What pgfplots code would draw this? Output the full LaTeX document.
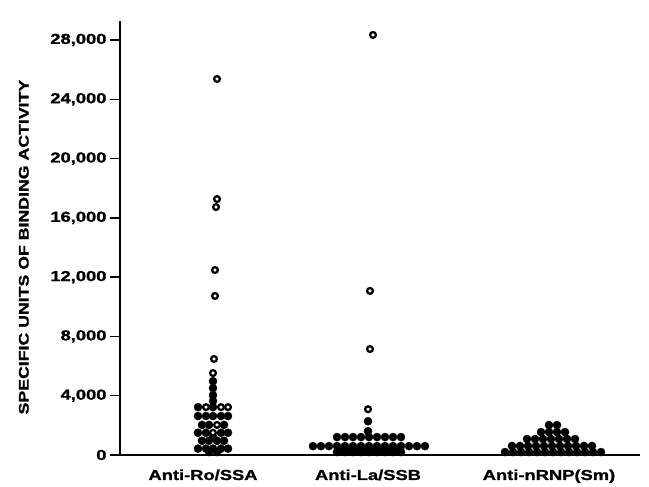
\documentclass[border=0pt]{standalone}
\usepackage{fontspec}
\setmainfont[FakeStretch=1.27, BoldFeatures={FakeBold=1.3}]{Liberation Sans}
\usepackage{pgfplots}
\pgfplotsset{compat=1.18}
\usepackage{pgfplotstable}

% x in picture columns, y in units of binding activity
\pgfplotstableread{
x y
213 4980
213 4510
213 4040
213 3640
198 3230
213 3230
198 2630
206 2630
213 2630
221 2630
228 2630
202 2030
209 2030
224 2030
198 1500
206 1500
221 1500
228 1500
213 1200
202 960
209 960
217 960
224 960
198 430
206 430
213 430
221 430
228 430
209 200
217 200
}\roFilled

\pgfplotstableread{
x y
217 25370
217 17270
216 16730
215 12480
215 10730
214 6480
213 5530
206 3230
221 3230
228 3230
217 2030
213 1500
}\roOpen

\pgfplotstableread{
x y
368 2280
368 1610
337 1210
345 1210
353 1210
361 1210
369 1210
377 1210
385 1210
393 1210
401 1210
313 600
321 600
329 600
337 600
345 600
353 600
361 600
369 600
377 600
385 600
393 600
401 600
409 600
417 600
425 600
341 350
349 350
357 350
365 350
373 350
381 350
389 350
397 350
337 200
345 200
353 200
361 200
369 200
377 200
385 200
393 200
401 200
}\laFilled

\pgfplotstableread{
x y
373 28340
370 11070
370 7150
368 3090
}\laOpen

\pgfplotstableread{
x y
549 2020
557 2020
541 1550
549 1550
557 1550
565 1550
527 1080
535 1080
543 1080
551 1080
559 1080
567 1080
575 1080
512 610
520 610
528 610
536 610
544 610
552 610
560 610
568 610
576 610
584 610
592 610
505 200
513 200
521 200
529 200
537 200
545 200
553 200
561 200
569 200
577 200
585 200
593 200
601 200
}\smFilled

\begin{document}
\begin{tikzpicture}
\begin{axis}[
  name=ax,
  scale only axis, width=520bp, height=434bp,
  xmin=120, xmax=640, ymin=0, ymax=29280,
  axis lines=left, axis line style={-, line width=1.6pt},
  clip=false,
  xtick={203,368,549},
  xticklabels={Anti-Ro/SSA, Anti-La/SSB, Anti-nRNP(Sm)},
  xtick style={draw=none},
  xticklabel style={yshift=-1bp},
  ytick={0,4000,...,28000},
  ytick style={line width=1.4pt, black},
  tick align=outside, major tick length=10bp,
  scaled y ticks=false,
  yticklabel style={/pgf/number format/.cd, 1000 sep={,}},
  /pgf/number format/assume math mode=true,
  ticklabel style={font=\fontsize{14.5}{16}\selectfont\bfseries},
  ylabel={SPECIFIC UNITS OF BINDING ACTIVITY},
  every axis y label/.style={at={(axis description cs:-0.185,0.479)}, anchor=center, rotate=90,
    font=\fontsize{14}{16}\selectfont\bfseries},
]
\addplot[only marks, mark=*, mark size=4.1pt, mark options={fill=black, draw=black, line width=0.3pt}] table {\roFilled};
\addplot[only marks, mark=*, mark size=4.1pt, mark options={fill=black, draw=black, line width=0.3pt}] table {\laFilled};
\addplot[only marks, mark=*, mark size=4.1pt, mark options={fill=black, draw=black, line width=0.3pt}] table {\smFilled};
\addplot[only marks, mark=*, mark size=2.9pt, mark options={fill=white, draw=black, line width=2.3pt}] table {\roOpen};
\addplot[only marks, mark=*, mark size=2.9pt, mark options={fill=white, draw=black, line width=2.3pt}] table {\laOpen};
\end{axis}
\path[use as bounding box] ([shift={(-120bp,-27bp)}]ax.south west) rectangle ([shift={(9bp,21bp)}]ax.north east);
\end{tikzpicture}
\end{document}
